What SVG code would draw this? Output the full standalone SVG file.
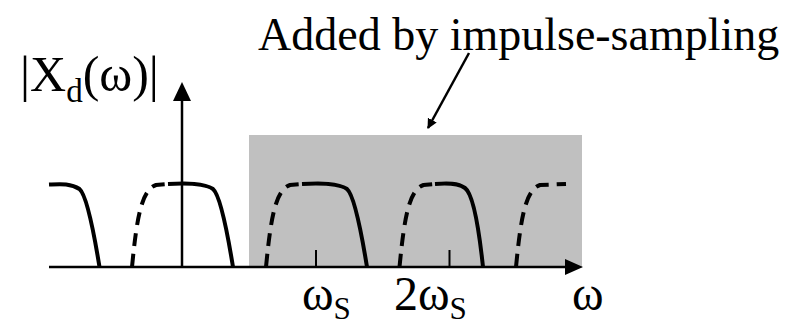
<svg xmlns="http://www.w3.org/2000/svg" width="803" height="326" viewBox="0 0 803 326">
<style>
.sol{fill:none;stroke:#000;stroke-width:4;stroke-linecap:butt}
.dsh{fill:none;stroke:#000;stroke-width:4;stroke-dasharray:13 8}
.ax{fill:none;stroke:#000;stroke-width:2.5}
.tk{fill:none;stroke:#000;stroke-width:2}
</style>
<defs>
<marker id="ah" markerWidth="10" markerHeight="10" refX="9" refY="5" orient="auto" markerUnits="userSpaceOnUse" viewBox="0 0 10 10">
<path d="M0,0 L10,5 L0,10 Z" fill="#000"/>
</marker>
</defs>
<g id="region">
<rect x="249" y="135" width="333" height="133" fill="#c0c0c0"/>
</g>
<g id="axes">
<line class="ax" x1="49" y1="267" x2="566" y2="267"/>
<polygon points="565,259 583,267 565,275" fill="#000"/>
<line class="ax" x1="182" y1="267" x2="182" y2="100"/>
<polygon points="173,101 182,82 191,101" fill="#000"/>
<line class="tk" x1="316" y1="250" x2="316" y2="267"/>
<line class="tk" x1="449.5" y1="250" x2="449.5" y2="267"/>
</g>
<g id="spectrum">
<path class="sol" d="M49,184.5 C60,184 70.5,183 79.5,189 C86.5,195 93.5,230 99.5,267"/>
<path class="dsh" d="M132,267 C137,215 142,190 156,185 L168,184"/>
<path class="sol" d="M168,184 C187,183 204,183 213,189 C220,195 227,230 233,267"/>
<path class="dsh" d="M266,267 C271,215 276,190 290,185 L302,184"/>
<path class="sol" d="M302,184 C321,183 338,183 347,189 C354,195 361,230 367,267"/>
<path class="dsh" d="M399.5,267 C404.5,215 409.5,190 423.5,185 L435,184"/>
<path class="sol" d="M435,184 C448,183 458,183 465,188 C472,193 478,220 483,267"/>
<path class="dsh" d="M516,267 C521,215 526,190 540,185 L566,184"/>
</g>
<g id="connectors">
<line x1="469" y1="53" x2="428" y2="128" stroke="#000" stroke-width="2.5" marker-end="url(#ah)"/>
</g>
<g id="labels" font-family="'Liberation Serif', 'DejaVu Serif', serif" fill="#000">
<text x="258" y="50" font-size="46">Added by impulse-sampling</text>
<text x="20" y="91" font-size="50">|X<tspan font-size="33" dy="11">d</tspan><tspan dy="-11">(ω)|</tspan></text>
<text x="302" y="310" font-size="48">ω<tspan font-size="31" dy="9">S</tspan></text>
<text x="394" y="310" font-size="48">2ω<tspan font-size="31" dy="9">S</tspan></text>
<text x="572" y="310" font-size="48">ω</text>
</g>
</svg>
